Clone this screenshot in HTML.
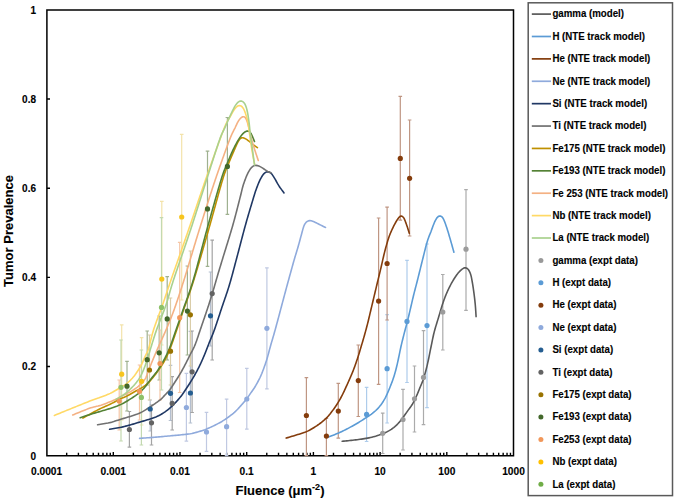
<!DOCTYPE html>
<html><head><meta charset="utf-8"><style>
html,body{margin:0;padding:0;background:#fff;}
svg{display:block;}
text{font-family:"Liberation Sans",sans-serif;font-weight:bold;fill:#000;stroke:#000;stroke-width:0.12px;}
</style></head><body>
<svg width="675" height="501" viewBox="0 0 675 501">

<path d="M66.68 455.7 V452.7 M78.42 455.7 V452.7 M86.76 455.7 V452.7 M93.22 455.7 V452.7 M98.50 455.7 V452.7 M102.97 455.7 V452.7 M106.84 455.7 V452.7 M110.25 455.7 V452.7 M113.30 455.7 V452.09999999999997 M133.38 455.7 V452.7 M145.12 455.7 V452.7 M153.46 455.7 V452.7 M159.92 455.7 V452.7 M165.20 455.7 V452.7 M169.67 455.7 V452.7 M173.54 455.7 V452.7 M176.95 455.7 V452.7 M180.00 455.7 V452.09999999999997 M200.08 455.7 V452.7 M211.82 455.7 V452.7 M220.16 455.7 V452.7 M226.62 455.7 V452.7 M231.90 455.7 V452.7 M236.37 455.7 V452.7 M240.24 455.7 V452.7 M243.65 455.7 V452.7 M246.70 455.7 V452.09999999999997 M266.78 455.7 V452.7 M278.52 455.7 V452.7 M286.86 455.7 V452.7 M293.32 455.7 V452.7 M298.60 455.7 V452.7 M303.07 455.7 V452.7 M306.94 455.7 V452.7 M310.35 455.7 V452.7 M313.40 455.7 V452.09999999999997 M333.48 455.7 V452.7 M345.22 455.7 V452.7 M353.56 455.7 V452.7 M360.02 455.7 V452.7 M365.30 455.7 V452.7 M369.77 455.7 V452.7 M373.64 455.7 V452.7 M377.05 455.7 V452.7 M380.10 455.7 V452.09999999999997 M400.18 455.7 V452.7 M411.92 455.7 V452.7 M420.26 455.7 V452.7 M426.72 455.7 V452.7 M432.00 455.7 V452.7 M436.47 455.7 V452.7 M440.34 455.7 V452.7 M443.75 455.7 V452.7 M446.80 455.7 V452.09999999999997 M466.88 455.7 V452.7 M478.62 455.7 V452.7 M486.96 455.7 V452.7 M493.42 455.7 V452.7 M498.70 455.7 V452.7 M503.17 455.7 V452.7 M507.04 455.7 V452.7 M510.45 455.7 V452.7 M46.9 366.54 H50 M46.9 277.38 H50 M46.9 188.22 H50 M46.9 99.06 H50" stroke="#000" stroke-width="1.4" fill="none"/>
<path d="M46.9 9.90 H513.50 V455.7 H46.9 Z" stroke="#000" stroke-width="1.5" fill="none"/>
<text x="36" y="459.60" font-size="10" text-anchor="end">0</text>
<text x="36" y="370.44" font-size="10" text-anchor="end">0.2</text>
<text x="36" y="281.28" font-size="10" text-anchor="end">0.4</text>
<text x="36" y="192.12" font-size="10" text-anchor="end">0.6</text>
<text x="36" y="102.96" font-size="10" text-anchor="end">0.8</text>
<text x="36" y="13.80" font-size="10" text-anchor="end">1</text>
<text x="46.60" y="475" font-size="10.2" text-anchor="middle">0.0001</text>
<text x="113.30" y="475" font-size="10.2" text-anchor="middle">0.001</text>
<text x="180.00" y="475" font-size="10.2" text-anchor="middle">0.01</text>
<text x="246.70" y="475" font-size="10.2" text-anchor="middle">0.1</text>
<text x="313.40" y="475" font-size="10.2" text-anchor="middle">1</text>
<text x="380.10" y="475" font-size="10.2" text-anchor="middle">10</text>
<text x="446.80" y="475" font-size="10.2" text-anchor="middle">100</text>
<text x="513.50" y="475" font-size="10.2" text-anchor="middle">1000</text>
<text x="0" y="0" font-size="13" text-anchor="middle" transform="translate(13.2 231) rotate(-90)">Tumor Prevalence</text>
<text x="280" y="495" font-size="13" text-anchor="middle">Fluence (μm<tspan font-size="9" dy="-5">-2</tspan><tspan dy="5">)</tspan></text>
<rect x="528.2" y="2.8" width="144.3" height="492.8" fill="none" stroke="#595959" stroke-width="1.5"/>
<path d="M531.8 14.10 H551" stroke="#595959" stroke-width="1.7"/>
<text transform="translate(552.4 17.40) scale(1 1.08)" font-size="9.7">gamma (model)</text>
<path d="M531.8 36.49 H551" stroke="#5B9BD5" stroke-width="1.7"/>
<text transform="translate(552.4 39.79) scale(1 1.08)" font-size="9.7">H (NTE track model)</text>
<path d="M531.8 58.88 H551" stroke="#843C0C" stroke-width="1.7"/>
<text transform="translate(552.4 62.18) scale(1 1.08)" font-size="9.7">He (NTE track model)</text>
<path d="M531.8 81.27 H551" stroke="#8FAADC" stroke-width="1.7"/>
<text transform="translate(552.4 84.57) scale(1 1.08)" font-size="9.7">Ne (NTE track model)</text>
<path d="M531.8 103.66 H551" stroke="#203864" stroke-width="1.7"/>
<text transform="translate(552.4 106.96) scale(1 1.08)" font-size="9.7">Si (NTE track model)</text>
<path d="M531.8 126.05 H551" stroke="#707070" stroke-width="1.7"/>
<text transform="translate(552.4 129.35) scale(1 1.08)" font-size="9.7">Ti (NTE track model)</text>
<path d="M531.8 148.44 H551" stroke="#BF9000" stroke-width="1.7"/>
<text transform="translate(552.4 151.74) scale(1 1.08)" font-size="9.7">Fe175 (NTE track model)</text>
<path d="M531.8 170.83 H551" stroke="#548235" stroke-width="1.7"/>
<text transform="translate(552.4 174.13) scale(1 1.08)" font-size="9.7">Fe193 (NTE track model)</text>
<path d="M531.8 193.22 H551" stroke="#F4B183" stroke-width="1.7"/>
<text transform="translate(552.4 196.52) scale(1 1.08)" font-size="9.7">Fe 253 (NTE track model)</text>
<path d="M531.8 215.61 H551" stroke="#FFD966" stroke-width="1.7"/>
<text transform="translate(552.4 218.91) scale(1 1.08)" font-size="9.7">Nb (NTE track model)</text>
<path d="M531.8 238.00 H551" stroke="#A9D18E" stroke-width="1.7"/>
<text transform="translate(552.4 241.30) scale(1 1.08)" font-size="9.7">La (NTE track model)</text>
<circle cx="540.9" cy="260.39" r="2.5" fill="#999999"/>
<text transform="translate(552.4 263.69) scale(1 1.08)" font-size="9.7">gamma (expt data)</text>
<circle cx="540.9" cy="282.78" r="2.5" fill="#5B9BD5"/>
<text transform="translate(552.4 286.08) scale(1 1.08)" font-size="9.7">H (expt data)</text>
<circle cx="540.9" cy="305.17" r="2.5" fill="#843C0C"/>
<text transform="translate(552.4 308.47) scale(1 1.08)" font-size="9.7">He (expt data)</text>
<circle cx="540.9" cy="327.56" r="2.5" fill="#8FAADC"/>
<text transform="translate(552.4 330.86) scale(1 1.08)" font-size="9.7">Ne (expt data)</text>
<circle cx="540.9" cy="349.95" r="2.5" fill="#255E91"/>
<text transform="translate(552.4 353.25) scale(1 1.08)" font-size="9.7">Si (expt data)</text>
<circle cx="540.9" cy="372.34" r="2.5" fill="#636363"/>
<text transform="translate(552.4 375.64) scale(1 1.08)" font-size="9.7">Ti (expt data)</text>
<circle cx="540.9" cy="394.73" r="2.5" fill="#997300"/>
<text transform="translate(552.4 398.03) scale(1 1.08)" font-size="9.7">Fe175 (expt data)</text>
<circle cx="540.9" cy="417.12" r="2.5" fill="#43682B"/>
<text transform="translate(552.4 420.42) scale(1 1.08)" font-size="9.7">Fe193 (expt data)</text>
<circle cx="540.9" cy="439.51" r="2.5" fill="#F1975A"/>
<text transform="translate(552.4 442.81) scale(1 1.08)" font-size="9.7">Fe253 (expt data)</text>
<circle cx="540.9" cy="461.90" r="2.5" fill="#FFC000"/>
<text transform="translate(552.4 465.20) scale(1 1.08)" font-size="9.7">Nb (expt data)</text>
<circle cx="540.9" cy="484.29" r="2.5" fill="#70AD47"/>
<text transform="translate(552.4 487.59) scale(1 1.08)" font-size="9.7">La (expt data)</text>
<path d="M382.7 413.1 V453.5 M380.9 413.1 h3.6 M380.9 453.5 h3.6 M403.0 389.4 V450.0 M401.2 389.4 h3.6 M401.2 450.0 h3.6 M414.5 366.0 V432.0 M412.7 366.0 h3.6 M412.7 432.0 h3.6 M423.5 330.6 V424.6 M421.7 330.6 h3.6 M421.7 424.6 h3.6 M442.8 274.5 V350.0 M441.0 274.5 h3.6 M441.0 350.0 h3.6 M466.0 189.6 V310.4 M464.2 189.6 h3.6 M464.2 310.4 h3.6" stroke="#ABABAB" stroke-width="1.2" fill="none"/>
<path d="M366.6 387.4 V441.5 M364.8 387.4 h3.6 M364.8 441.5 h3.6 M387.1 314.7 V423.0 M385.3 314.7 h3.6 M385.3 423.0 h3.6 M407.0 260.3 V382.5 M405.2 260.3 h3.6 M405.2 382.5 h3.6 M427.0 244.0 V407.6 M425.2 244.0 h3.6 M425.2 407.6 h3.6" stroke="#AECCEB" stroke-width="1.2" fill="none"/>
<path d="M306.4 377.6 V455.7 M304.6 377.6 h3.6 M304.6 455.7 h3.6 M326.4 418.5 V455.7 M324.6 418.5 h3.6 M324.6 455.7 h3.6 M338.3 383.3 V438.2 M336.5 383.3 h3.6 M336.5 438.2 h3.6 M358.3 345.0 V416.5 M356.5 345.0 h3.6 M356.5 416.5 h3.6 M378.6 218.0 V384.3 M376.8 218.0 h3.6 M376.8 384.3 h3.6 M387.1 207.2 V320.0 M385.3 207.2 h3.6 M385.3 320.0 h3.6 M400.3 96.3 V220.2 M398.5 96.3 h3.6 M398.5 220.2 h3.6 M409.6 120.0 V236.0 M407.8 120.0 h3.6 M407.8 236.0 h3.6" stroke="#BF9683" stroke-width="1.2" fill="none"/>
<path d="M186.4 373.4 V441.2 M184.6 373.4 h3.6 M184.6 441.2 h3.6 M206.5 412.4 V451.3 M204.7 412.4 h3.6 M204.7 451.3 h3.6 M226.6 399.2 V455.7 M224.8 399.2 h3.6 M224.8 455.7 h3.6 M246.8 368.3 V429.1 M245.0 368.3 h3.6 M245.0 429.1 h3.6 M266.9 267.9 V388.8 M265.1 267.9 h3.6 M265.1 388.8 h3.6" stroke="#C0C9E2" stroke-width="1.2" fill="none"/>
<path d="M150.2 400.0 V431.0 M148.4 400.0 h3.6 M148.4 431.0 h3.6 M170.5 365.4 V420.5 M168.7 365.4 h3.6 M168.7 420.5 h3.6 M190.4 331.4 V423.0 M188.6 331.4 h3.6 M188.6 423.0 h3.6 M210.5 272.0 V346.0 M208.7 272.0 h3.6 M208.7 346.0 h3.6" stroke="#B4BFCF" stroke-width="1.2" fill="none"/>
<path d="M129.4 411.5 V447.2 M127.6 411.5 h3.6 M127.6 447.2 h3.6 M151.5 405.0 V445.0 M149.7 405.0 h3.6 M149.7 445.0 h3.6 M172.2 376.6 V430.0 M170.4 376.6 h3.6 M170.4 430.0 h3.6 M192.1 331.0 V412.5 M190.3 331.0 h3.6 M190.3 412.5 h3.6 M212.2 240.2 V360.0 M210.4 240.2 h3.6 M210.4 360.0 h3.6" stroke="#A4A4A4" stroke-width="1.2" fill="none"/>
<path d="M149.5 335.0 V400.0 M147.7 335.0 h3.6 M147.7 400.0 h3.6 M170.5 298.0 V385.0 M168.7 298.0 h3.6 M168.7 385.0 h3.6 M190.4 251.0 V366.0 M188.6 251.0 h3.6 M188.6 366.0 h3.6" stroke="#DACDA8" stroke-width="1.2" fill="none"/>
<path d="M127.0 361.3 V411.0 M125.2 361.3 h3.6 M125.2 411.0 h3.6 M147.2 331.0 V385.0 M145.4 331.0 h3.6 M145.4 385.0 h3.6 M159.2 316.0 V380.0 M157.4 316.0 h3.6 M157.4 380.0 h3.6 M167.2 276.6 V360.0 M165.4 276.6 h3.6 M165.4 360.0 h3.6 M187.4 266.0 V355.0 M185.6 266.0 h3.6 M185.6 355.0 h3.6 M207.5 151.2 V266.4 M205.7 151.2 h3.6 M205.7 266.4 h3.6 M227.4 117.5 V214.4 M225.6 117.5 h3.6 M225.6 214.4 h3.6" stroke="#9FB190" stroke-width="1.2" fill="none"/>
<path d="M119.2 380.0 V430.0 M117.4 380.0 h3.6 M117.4 430.0 h3.6 M139.5 365.0 V420.0 M137.7 365.0 h3.6 M137.7 420.0 h3.6 M160.0 330.0 V400.0 M158.2 330.0 h3.6 M158.2 400.0 h3.6 M179.7 242.4 V392.5 M177.9 242.4 h3.6 M177.9 392.5 h3.6" stroke="#F6C6A6" stroke-width="1.2" fill="none"/>
<path d="M121.7 324.9 V420.0 M119.9 324.9 h3.6 M119.9 420.0 h3.6 M141.6 337.7 V425.0 M139.8 337.7 h3.6 M139.8 425.0 h3.6 M161.8 201.4 V345.0 M160.0 201.4 h3.6 M160.0 345.0 h3.6 M181.7 134.4 V300.0 M179.9 134.4 h3.6 M179.9 300.0 h3.6" stroke="#F3E3AA" stroke-width="1.2" fill="none"/>
<path d="M121.0 340.0 V441.0 M119.2 340.0 h3.6 M119.2 441.0 h3.6 M141.4 350.0 V445.0 M139.6 350.0 h3.6 M139.6 445.0 h3.6 M161.5 217.6 V390.0 M159.7 217.6 h3.6 M159.7 390.0 h3.6" stroke="#C3D9B0" stroke-width="1.2" fill="none"/>
<path d="M342.20 441.30 L343.81 441.14 L345.20 441.00 L346.68 440.85 L348.17 440.70 L349.66 440.55 L351.15 440.39 L352.65 440.23 L354.14 440.07 L355.63 439.89 L357.11 439.71 L358.60 439.51 L360.09 439.31 L361.57 439.10 L363.06 438.88 L364.54 438.65 L366.02 438.41 L367.50 438.15 L368.97 437.86 L370.44 437.55 L371.90 437.21 L373.35 436.84 L374.80 436.44 L376.23 436.02 L377.66 435.56 L379.08 435.09 L380.50 434.58 L381.90 434.06 L383.29 433.50 L384.67 432.91 L386.03 432.28 L387.37 431.61 L388.69 430.88 L389.98 430.12 L391.24 429.31 L392.48 428.47 L393.68 427.57 L394.85 426.63 L395.97 425.64 L397.05 424.60 L398.09 423.52 L399.09 422.41 L400.06 421.26 L400.99 420.09 L401.92 418.91 L402.83 417.71 L403.72 416.51 L404.60 415.29 L405.46 414.07 L406.31 412.83 L407.16 411.59 L408.02 410.37 L408.89 409.15 L409.79 407.95 L410.69 406.74 L411.55 405.52 L412.36 404.26 L413.11 402.96 L413.81 401.64 L414.49 400.30 L415.14 398.94 L415.77 397.59 L416.39 396.22 L417.00 394.85 L417.59 393.47 L418.16 392.08 L418.73 390.69 L419.29 389.30 L419.86 387.92 L420.44 386.53 L421.03 385.15 L421.61 383.77 L422.18 382.38 L422.72 380.99 L423.23 379.58 L423.71 378.15 L424.14 376.72 L424.56 375.28 L424.97 373.83 L425.37 372.39 L425.76 370.94 L426.15 369.49 L426.52 368.04 L426.88 366.58 L427.23 365.12 L427.57 363.66 L427.89 362.20 L428.21 360.73 L428.52 359.26 L428.82 357.79 L429.11 356.32 L429.41 354.85 L429.70 353.38 L430.00 351.91 L430.30 350.44 L430.59 348.97 L430.90 347.50 L431.20 346.03 L431.50 344.56 L431.80 343.09 L432.09 341.62 L432.39 340.15 L432.69 338.68 L433.00 337.22 L433.32 335.75 L433.65 334.29 L434.00 332.83 L434.37 331.38 L434.76 329.93 L435.17 328.48 L435.59 327.04 L436.02 325.61 L436.46 324.17 L436.90 322.74 L437.35 321.31 L437.79 319.88 L438.23 318.44 L438.66 317.00 L439.09 315.57 L439.51 314.13 L439.94 312.69 L440.36 311.25 L440.79 309.81 L441.22 308.38 L441.66 306.94 L442.11 305.51 L442.58 304.09 L443.06 302.66 L443.54 301.24 L444.04 299.83 L444.55 298.42 L445.08 297.02 L445.63 295.62 L446.20 294.23 L446.79 292.85 L447.40 291.48 L448.02 290.12 L448.67 288.77 L449.33 287.42 L450.00 286.08 L450.69 284.75 L451.40 283.42 L452.13 282.11 L452.88 280.81 L453.65 279.53 L454.46 278.27 L455.29 277.02 L456.14 275.78 L457.01 274.56 L457.91 273.36 L458.86 272.21 L459.88 271.11 L460.97 270.09 L462.13 269.14 L463.36 268.34 L464.69 267.87 L466.05 267.91 L467.27 268.52 L468.28 269.54 L469.10 270.77 L469.79 272.10 L470.36 273.48 L470.82 274.90 L471.20 276.35 L471.52 277.82 L471.80 279.29 L472.06 280.77 L472.31 282.25 L472.55 283.73 L472.80 285.21 L473.03 286.69 L473.26 288.17 L473.47 289.66 L473.68 291.14 L473.89 292.63 L474.08 294.11 L474.27 295.60 L474.46 297.09 L474.64 298.58 L474.81 300.07 L474.97 301.56 L475.12 303.05 L475.25 304.55 L475.38 306.04 L475.50 307.54 L475.61 309.03 L475.71 310.53 L475.81 312.03 L475.90 313.51 L475.99 314.91 L476.06 315.96 L476.10 316.60" stroke="#595959" stroke-width="1.6" fill="none" stroke-linejoin="round" stroke-linecap="round"/>
<path d="M327.50 437.20 L329.02 436.65 L330.33 436.18 L331.73 435.67 L333.14 435.16 L334.55 434.63 L335.95 434.09 L337.34 433.53 L338.72 432.95 L340.09 432.34 L341.45 431.71 L342.80 431.06 L344.15 430.40 L345.49 429.72 L346.82 429.03 L348.15 428.34 L349.47 427.64 L350.79 426.92 L352.11 426.21 L353.42 425.48 L354.73 424.74 L356.03 424.00 L357.32 423.24 L358.61 422.46 L359.88 421.67 L361.15 420.87 L362.42 420.07 L363.68 419.26 L364.94 418.44 L366.20 417.62 L367.45 416.80 L368.71 415.98 L369.95 415.14 L371.17 414.28 L372.37 413.38 L373.55 412.44 L374.70 411.48 L375.82 410.49 L376.91 409.45 L377.95 408.38 L378.95 407.26 L379.90 406.10 L380.81 404.91 L381.69 403.70 L382.54 402.46 L383.35 401.20 L384.12 399.92 L384.86 398.61 L385.56 397.28 L386.22 395.94 L386.85 394.58 L387.46 393.21 L388.06 391.83 L388.65 390.45 L389.23 389.07 L389.79 387.68 L390.35 386.29 L390.90 384.89 L391.45 383.50 L391.99 382.10 L392.51 380.69 L393.02 379.28 L393.50 377.86 L393.96 376.43 L394.40 375.00 L394.82 373.56 L395.22 372.11 L395.62 370.67 L396.00 369.22 L396.37 367.76 L396.73 366.31 L397.08 364.85 L397.42 363.39 L397.75 361.92 L398.06 360.46 L398.37 358.99 L398.68 357.52 L398.98 356.05 L399.29 354.58 L399.59 353.11 L399.89 351.64 L400.19 350.17 L400.50 348.71 L400.81 347.24 L401.14 345.78 L401.48 344.31 L401.83 342.86 L402.18 341.40 L402.54 339.94 L402.91 338.49 L403.27 337.03 L403.64 335.58 L404.01 334.12 L404.39 332.67 L404.77 331.22 L405.16 329.77 L405.55 328.32 L405.94 326.88 L406.33 325.43 L406.72 323.98 L407.10 322.53 L407.48 321.08 L407.84 319.62 L408.20 318.16 L408.55 316.71 L408.90 315.25 L409.24 313.79 L409.58 312.33 L409.93 310.87 L410.27 309.41 L410.61 307.95 L410.95 306.49 L411.30 305.02 L411.63 303.56 L411.97 302.10 L412.31 300.64 L412.65 299.18 L413.00 297.72 L413.35 296.26 L413.70 294.80 L414.06 293.35 L414.43 291.89 L414.81 290.44 L415.18 288.99 L415.56 287.54 L415.94 286.09 L416.32 284.64 L416.69 283.18 L417.07 281.73 L417.44 280.28 L417.80 278.82 L418.17 277.37 L418.53 275.91 L418.89 274.46 L419.25 273.00 L419.62 271.54 L419.98 270.09 L420.34 268.63 L420.70 267.18 L421.06 265.72 L421.42 264.27 L421.78 262.81 L422.14 261.35 L422.50 259.90 L422.86 258.44 L423.23 256.99 L423.59 255.53 L423.95 254.07 L424.32 252.62 L424.68 251.17 L425.05 249.71 L425.41 248.26 L425.79 246.80 L426.17 245.35 L426.58 243.91 L427.00 242.47 L427.44 241.04 L427.90 239.61 L428.38 238.19 L428.89 236.78 L429.43 235.38 L430.00 233.99 L430.57 232.60 L431.12 231.21 L431.64 229.80 L432.15 228.39 L432.66 226.98 L433.18 225.58 L433.73 224.18 L434.29 222.79 L434.90 221.42 L435.57 220.08 L436.32 218.79 L437.18 217.58 L438.20 216.56 L439.40 215.99 L440.68 216.08 L441.84 216.78 L442.78 217.88 L443.51 219.17 L444.13 220.53 L444.69 221.92 L445.23 223.32 L445.75 224.72 L446.24 226.14 L446.72 227.56 L447.18 228.99 L447.62 230.42 L448.07 231.86 L448.50 233.29 L448.93 234.73 L449.35 236.17 L449.78 237.61 L450.19 239.05 L450.61 240.49 L451.02 241.93 L451.43 243.37 L451.84 244.82 L452.24 246.26 L452.65 247.71 L453.05 249.14 L453.43 250.50 L453.72 251.54 L453.90 252.20" stroke="#5B9BD5" stroke-width="1.6" fill="none" stroke-linejoin="round" stroke-linecap="round"/>
<path d="M286.20 438.10 L287.75 437.63 L289.08 437.23 L290.51 436.79 L291.94 436.35 L293.37 435.91 L294.81 435.46 L296.24 435.02 L297.67 434.59 L299.11 434.16 L300.55 433.72 L301.98 433.27 L303.40 432.80 L304.81 432.30 L306.21 431.75 L307.58 431.14 L308.93 430.49 L310.25 429.79 L311.56 429.04 L312.84 428.27 L314.12 427.48 L315.38 426.68 L316.64 425.86 L317.88 425.01 L319.10 424.14 L320.30 423.24 L321.48 422.32 L322.64 421.37 L323.79 420.40 L324.91 419.41 L326.00 418.39 L327.07 417.33 L328.10 416.24 L329.08 415.11 L330.03 413.95 L330.95 412.76 L331.85 411.57 L332.75 410.36 L333.64 409.16 L334.51 407.94 L335.37 406.71 L336.21 405.47 L337.03 404.21 L337.84 402.94 L338.62 401.66 L339.38 400.37 L340.12 399.07 L340.84 397.75 L341.55 396.43 L342.24 395.10 L342.91 393.75 L343.56 392.40 L344.20 391.05 L344.83 389.68 L345.45 388.32 L346.08 386.96 L346.70 385.59 L347.32 384.23 L347.94 382.86 L348.56 381.49 L349.16 380.12 L349.76 378.75 L350.36 377.37 L350.95 375.99 L351.53 374.61 L352.11 373.23 L352.68 371.84 L353.24 370.45 L353.79 369.05 L354.32 367.65 L354.84 366.24 L355.34 364.83 L355.82 363.41 L356.30 361.99 L356.78 360.56 L357.26 359.14 L357.74 357.72 L358.21 356.30 L358.67 354.87 L359.11 353.44 L359.54 352.00 L359.96 350.56 L360.38 349.12 L360.80 347.68 L361.23 346.24 L361.66 344.81 L362.10 343.37 L362.53 341.93 L362.95 340.49 L363.37 339.05 L363.79 337.61 L364.20 336.17 L364.61 334.73 L365.01 333.28 L365.41 331.84 L365.80 330.39 L366.19 328.94 L366.58 327.49 L366.96 326.04 L367.34 324.59 L367.71 323.14 L368.08 321.68 L368.43 320.22 L368.78 318.77 L369.13 317.31 L369.48 315.85 L369.82 314.39 L370.16 312.93 L370.51 311.47 L370.86 310.01 L371.20 308.55 L371.55 307.09 L371.90 305.63 L372.25 304.17 L372.59 302.71 L372.94 301.25 L373.29 299.79 L373.63 298.33 L373.98 296.87 L374.33 295.42 L374.68 293.96 L375.02 292.50 L375.37 291.04 L375.72 289.58 L376.07 288.12 L376.41 286.66 L376.76 285.20 L377.11 283.74 L377.45 282.28 L377.80 280.82 L378.16 279.37 L378.51 277.91 L378.87 276.45 L379.23 274.99 L379.58 273.54 L379.94 272.08 L380.29 270.62 L380.64 269.16 L380.98 267.70 L381.32 266.24 L381.65 264.78 L381.98 263.32 L382.31 261.85 L382.64 260.39 L382.97 258.93 L383.31 257.46 L383.65 256.00 L383.99 254.54 L384.35 253.09 L384.71 251.63 L385.08 250.18 L385.47 248.73 L385.86 247.28 L386.26 245.84 L386.68 244.39 L387.09 242.95 L387.51 241.51 L387.95 240.08 L388.40 238.65 L388.89 237.23 L389.40 235.82 L389.94 234.42 L390.52 233.04 L391.11 231.66 L391.73 230.29 L392.35 228.93 L393.00 227.57 L393.65 226.22 L394.32 224.88 L395.02 223.56 L395.75 222.24 L396.51 220.95 L397.31 219.68 L398.15 218.44 L399.06 217.28 L400.11 216.36 L401.30 216.03 L402.47 216.45 L403.44 217.44 L404.20 218.70 L404.82 220.06 L405.37 221.45 L405.89 222.86 L406.40 224.27 L406.88 225.69 L407.35 227.11 L407.82 228.54 L408.27 229.96 L408.70 231.33 L409.05 232.42 L409.30 233.20" stroke="#843C0C" stroke-width="1.6" fill="none" stroke-linejoin="round" stroke-linecap="round"/>
<path d="M139.60 438.40 L141.22 438.27 L142.60 438.17 L144.09 438.05 L145.58 437.94 L147.08 437.82 L148.57 437.71 L150.07 437.59 L151.56 437.47 L153.06 437.35 L154.55 437.23 L156.05 437.10 L157.54 436.98 L159.04 436.85 L160.53 436.72 L162.03 436.59 L163.52 436.46 L165.02 436.32 L166.51 436.19 L168.00 436.06 L169.50 435.93 L170.99 435.79 L172.49 435.66 L173.98 435.52 L175.47 435.38 L176.97 435.24 L178.46 435.10 L179.95 434.96 L181.45 434.81 L182.94 434.66 L184.43 434.50 L185.92 434.34 L187.41 434.16 L188.90 433.97 L190.38 433.75 L191.85 433.47 L193.31 433.14 L194.77 432.76 L196.21 432.38 L197.66 431.98 L199.10 431.57 L200.54 431.14 L201.97 430.68 L203.39 430.20 L204.80 429.70 L206.20 429.16 L207.59 428.59 L208.97 428.00 L210.34 427.39 L211.70 426.76 L213.05 426.11 L214.40 425.45 L215.74 424.78 L217.08 424.10 L218.41 423.40 L219.73 422.69 L221.03 421.96 L222.32 421.19 L223.59 420.39 L224.84 419.57 L226.08 418.72 L227.31 417.86 L228.53 416.99 L229.74 416.10 L230.93 415.19 L232.11 414.27 L233.28 413.32 L234.41 412.34 L235.52 411.33 L236.59 410.29 L237.64 409.21 L238.66 408.11 L239.67 407.00 L240.67 405.89 L241.67 404.77 L242.66 403.64 L243.64 402.51 L244.61 401.36 L245.57 400.21 L246.51 399.04 L247.42 397.85 L248.30 396.63 L249.15 395.40 L249.99 394.16 L250.83 392.91 L251.68 391.68 L252.55 390.46 L253.42 389.23 L254.26 387.99 L255.06 386.72 L255.83 385.44 L256.57 384.13 L257.29 382.82 L258.00 381.50 L258.70 380.17 L259.38 378.83 L260.04 377.49 L260.67 376.13 L261.27 374.75 L261.85 373.37 L262.40 371.97 L262.94 370.57 L263.47 369.17 L263.99 367.76 L264.50 366.35 L265.00 364.94 L265.49 363.52 L265.97 362.10 L266.43 360.67 L266.88 359.24 L267.31 357.80 L267.72 356.36 L268.11 354.91 L268.50 353.47 L268.89 352.02 L269.27 350.57 L269.65 349.12 L270.04 347.67 L270.44 346.22 L270.85 344.78 L271.27 343.34 L271.69 341.90 L272.11 340.46 L272.54 339.02 L272.96 337.58 L273.38 336.14 L273.80 334.70 L274.21 333.26 L274.61 331.81 L275.02 330.37 L275.41 328.92 L275.81 327.48 L276.21 326.03 L276.60 324.58 L276.99 323.13 L277.38 321.69 L277.77 320.24 L278.16 318.79 L278.55 317.34 L278.94 315.89 L279.32 314.44 L279.71 312.99 L280.09 311.54 L280.48 310.09 L280.86 308.64 L281.25 307.19 L281.63 305.74 L282.02 304.29 L282.41 302.84 L282.79 301.39 L283.18 299.94 L283.57 298.50 L283.96 297.05 L284.34 295.60 L284.73 294.15 L285.12 292.70 L285.51 291.25 L285.90 289.80 L286.29 288.35 L286.68 286.91 L287.08 285.46 L287.47 284.01 L287.87 282.57 L288.26 281.12 L288.66 279.67 L289.06 278.23 L289.46 276.78 L289.86 275.33 L290.26 273.89 L290.66 272.44 L291.06 271.00 L291.46 269.55 L291.86 268.11 L292.26 266.66 L292.66 265.21 L293.06 263.77 L293.47 262.33 L293.88 260.88 L294.29 259.44 L294.71 258.00 L295.14 256.57 L295.58 255.13 L296.01 253.69 L296.45 252.26 L296.89 250.82 L297.32 249.39 L297.74 247.95 L298.16 246.51 L298.57 245.07 L298.98 243.62 L299.37 242.17 L299.77 240.73 L300.16 239.28 L300.55 237.83 L300.94 236.38 L301.33 234.94 L301.73 233.49 L302.11 232.04 L302.50 230.59 L302.89 229.14 L303.32 227.70 L303.80 226.29 L304.38 224.91 L305.11 223.62 L306.01 222.45 L307.11 221.49 L308.39 220.85 L309.79 220.63 L311.23 220.82 L312.64 221.27 L314.03 221.84 L315.39 222.45 L316.75 223.09 L318.09 223.77 L319.43 224.45 L320.76 225.13 L322.10 225.80 L323.41 226.45 L324.53 227.02 L325.50 227.50" stroke="#8FAADC" stroke-width="1.6" fill="none" stroke-linejoin="round" stroke-linecap="round"/>
<path d="M109.60 429.30 L111.20 429.04 L112.57 428.82 L114.04 428.57 L115.52 428.33 L117.00 428.07 L118.47 427.79 L119.94 427.50 L121.41 427.18 L122.87 426.85 L124.33 426.49 L125.78 426.12 L127.23 425.75 L128.68 425.36 L130.13 424.96 L131.57 424.55 L133.01 424.13 L134.45 423.70 L135.88 423.26 L137.32 422.82 L138.75 422.38 L140.19 421.95 L141.63 421.53 L143.07 421.11 L144.51 420.70 L145.95 420.28 L147.39 419.84 L148.81 419.39 L150.24 418.91 L151.66 418.43 L153.07 417.93 L154.48 417.42 L155.88 416.89 L157.27 416.31 L158.62 415.68 L159.96 414.99 L161.27 414.26 L162.55 413.49 L163.82 412.68 L165.06 411.84 L166.28 410.97 L167.47 410.06 L168.64 409.13 L169.79 408.16 L170.91 407.16 L172.00 406.14 L173.08 405.09 L174.13 404.02 L175.17 402.94 L176.19 401.84 L177.20 400.73 L178.19 399.61 L179.17 398.47 L180.13 397.32 L181.06 396.14 L181.97 394.95 L182.84 393.73 L183.70 392.50 L184.53 391.25 L185.36 390.00 L186.18 388.75 L187.01 387.49 L187.83 386.24 L188.66 384.99 L189.47 383.73 L190.28 382.46 L191.07 381.19 L191.85 379.91 L192.62 378.62 L193.38 377.33 L194.13 376.03 L194.88 374.73 L195.61 373.42 L196.33 372.11 L197.04 370.78 L197.74 369.46 L198.43 368.12 L199.10 366.78 L199.76 365.43 L200.40 364.08 L201.03 362.72 L201.65 361.35 L202.26 359.98 L202.86 358.61 L203.45 357.23 L204.04 355.85 L204.62 354.46 L205.18 353.08 L205.74 351.68 L206.29 350.29 L206.83 348.89 L207.37 347.49 L207.91 346.09 L208.45 344.69 L209.00 343.29 L209.55 341.90 L210.11 340.51 L210.69 339.12 L211.27 337.74 L211.85 336.36 L212.42 334.97 L212.98 333.58 L213.52 332.18 L214.04 330.77 L214.55 329.36 L215.05 327.95 L215.54 326.53 L216.03 325.11 L216.51 323.69 L216.98 322.27 L217.46 320.84 L217.93 319.42 L218.40 318.00 L218.87 316.57 L219.34 315.15 L219.81 313.72 L220.28 312.30 L220.75 310.87 L221.22 309.45 L221.69 308.03 L222.17 306.60 L222.65 305.18 L223.14 303.76 L223.62 302.34 L224.11 300.93 L224.60 299.51 L225.09 298.09 L225.58 296.67 L226.06 295.25 L226.55 293.83 L227.02 292.41 L227.49 290.98 L227.95 289.56 L228.40 288.13 L228.85 286.70 L229.29 285.26 L229.72 283.82 L230.14 282.38 L230.55 280.94 L230.96 279.50 L231.37 278.06 L231.77 276.61 L232.16 275.16 L232.55 273.71 L232.94 272.27 L233.33 270.82 L233.72 269.37 L234.10 267.92 L234.49 266.47 L234.87 265.02 L235.25 263.57 L235.64 262.12 L236.02 260.67 L236.41 259.22 L236.79 257.77 L237.18 256.32 L237.57 254.87 L237.95 253.42 L238.33 251.97 L238.72 250.52 L239.10 249.07 L239.48 247.62 L239.86 246.17 L240.23 244.71 L240.61 243.26 L240.99 241.81 L241.37 240.36 L241.75 238.91 L242.13 237.46 L242.51 236.01 L242.90 234.56 L243.28 233.11 L243.67 231.66 L244.05 230.21 L244.44 228.76 L244.84 227.31 L245.23 225.87 L245.64 224.42 L246.04 222.98 L246.45 221.53 L246.86 220.09 L247.27 218.65 L247.69 217.21 L248.11 215.77 L248.53 214.33 L248.96 212.89 L249.38 211.45 L249.81 210.01 L250.24 208.58 L250.67 207.14 L251.10 205.70 L251.53 204.27 L251.97 202.83 L252.40 201.39 L252.83 199.96 L253.26 198.52 L253.69 197.08 L254.12 195.65 L254.56 194.21 L255.02 192.78 L255.49 191.36 L255.99 189.95 L256.50 188.54 L257.02 187.13 L257.55 185.73 L258.10 184.33 L258.66 182.94 L259.26 181.56 L259.88 180.20 L260.55 178.86 L261.27 177.55 L262.04 176.26 L262.88 175.02 L263.81 173.86 L264.87 172.84 L266.10 172.09 L267.47 171.76 L268.87 171.92 L270.15 172.53 L271.27 173.48 L272.22 174.61 L273.06 175.85 L273.86 177.12 L274.63 178.40 L275.40 179.69 L276.14 181.00 L276.87 182.31 L277.60 183.62 L278.36 184.91 L279.15 186.18 L279.99 187.43 L280.85 188.65 L281.74 189.86 L282.61 191.03 L283.36 192.04 L284.00 192.90" stroke="#203864" stroke-width="1.6" fill="none" stroke-linejoin="round" stroke-linecap="round"/>
<path d="M97.60 424.80 L99.20 424.54 L100.57 424.32 L102.04 424.08 L103.52 423.83 L105.00 423.58 L106.48 423.31 L107.95 423.03 L109.41 422.71 L110.87 422.36 L112.32 421.97 L113.76 421.54 L115.18 421.08 L116.61 420.61 L118.03 420.14 L119.46 419.68 L120.89 419.24 L122.33 418.81 L123.77 418.38 L125.21 417.96 L126.65 417.53 L128.08 417.10 L129.51 416.65 L130.94 416.20 L132.38 415.76 L133.81 415.31 L135.23 414.84 L136.65 414.35 L138.05 413.82 L139.43 413.23 L140.78 412.58 L142.11 411.89 L143.42 411.15 L144.70 410.38 L145.98 409.59 L147.24 408.79 L148.50 407.97 L149.76 407.15 L151.01 406.33 L152.26 405.50 L153.51 404.67 L154.75 403.82 L155.98 402.96 L157.20 402.09 L158.41 401.20 L159.59 400.29 L160.75 399.33 L161.85 398.32 L162.91 397.26 L163.94 396.16 L164.96 395.07 L165.99 393.98 L167.02 392.89 L168.04 391.79 L169.02 390.66 L169.97 389.49 L170.86 388.29 L171.72 387.06 L172.55 385.81 L173.37 384.55 L174.18 383.29 L174.98 382.03 L175.79 380.77 L176.60 379.50 L177.41 378.23 L178.20 376.96 L178.98 375.68 L179.76 374.40 L180.52 373.10 L181.27 371.81 L182.01 370.50 L182.74 369.19 L183.46 367.87 L184.17 366.55 L184.87 365.23 L185.57 363.90 L186.25 362.56 L186.92 361.22 L187.59 359.88 L188.25 358.54 L188.92 357.19 L189.58 355.85 L190.26 354.51 L190.95 353.18 L191.66 351.85 L192.36 350.53 L193.05 349.20 L193.71 347.85 L194.34 346.49 L194.93 345.11 L195.49 343.72 L196.02 342.32 L196.53 340.91 L197.02 339.49 L197.50 338.07 L197.98 336.65 L198.45 335.22 L198.92 333.80 L199.40 332.38 L199.88 330.95 L200.36 329.54 L200.85 328.12 L201.34 326.70 L201.83 325.28 L202.32 323.86 L202.80 322.44 L203.29 321.03 L203.78 319.61 L204.27 318.19 L204.75 316.77 L205.23 315.35 L205.71 313.93 L206.19 312.51 L206.67 311.08 L207.14 309.66 L207.62 308.24 L208.09 306.81 L208.55 305.39 L209.02 303.96 L209.48 302.54 L209.94 301.11 L210.40 299.68 L210.85 298.25 L211.30 296.82 L211.74 295.38 L212.18 293.95 L212.62 292.51 L213.04 291.08 L213.47 289.64 L213.89 288.20 L214.30 286.76 L214.72 285.31 L215.13 283.87 L215.54 282.43 L215.95 280.99 L216.37 279.55 L216.79 278.10 L217.21 276.66 L217.63 275.23 L218.06 273.79 L218.49 272.35 L218.92 270.91 L219.35 269.48 L219.79 268.04 L220.22 266.61 L220.66 265.17 L221.09 263.74 L221.53 262.30 L221.96 260.87 L222.40 259.43 L222.84 258.00 L223.28 256.56 L223.72 255.13 L224.16 253.69 L224.60 252.26 L225.05 250.83 L225.49 249.40 L225.93 247.96 L226.38 246.53 L226.82 245.10 L227.26 243.66 L227.71 242.23 L228.15 240.80 L228.59 239.36 L229.03 237.93 L229.46 236.49 L229.90 235.06 L230.33 233.62 L230.76 232.19 L231.19 230.75 L231.62 229.31 L232.04 227.87 L232.46 226.43 L232.87 224.99 L233.28 223.54 L233.68 222.10 L234.08 220.65 L234.48 219.21 L234.87 217.76 L235.26 216.31 L235.64 214.86 L236.02 213.41 L236.40 211.96 L236.78 210.51 L237.15 209.05 L237.52 207.60 L237.89 206.15 L238.26 204.69 L238.63 203.24 L239.00 201.78 L239.37 200.33 L239.74 198.88 L240.11 197.42 L240.48 195.97 L240.85 194.52 L241.21 193.06 L241.55 191.60 L241.90 190.14 L242.25 188.68 L242.63 187.23 L243.05 185.79 L243.50 184.36 L243.97 182.94 L244.46 181.52 L244.97 180.11 L245.50 178.71 L246.04 177.31 L246.62 175.92 L247.22 174.55 L247.87 173.20 L248.55 171.87 L249.30 170.56 L250.11 169.30 L251.00 168.11 L252.02 167.03 L253.18 166.14 L254.50 165.56 L255.92 165.39 L257.36 165.60 L258.77 166.05 L260.14 166.64 L261.46 167.35 L262.73 168.14 L263.97 168.98 L265.22 169.82 L266.48 170.63 L267.77 171.37 L269.05 172.05 L270.14 172.58 L271.00 173.00" stroke="#707070" stroke-width="1.6" fill="none" stroke-linejoin="round" stroke-linecap="round"/>
<path d="M82.90 418.10 L84.32 417.31 L85.53 416.64 L86.84 415.92 L88.15 415.19 L89.46 414.46 L90.77 413.73 L92.08 413.01 L93.40 412.29 L94.72 411.57 L96.04 410.86 L97.36 410.16 L98.69 409.47 L100.04 408.80 L101.39 408.15 L102.75 407.52 L104.12 406.91 L105.50 406.32 L106.87 405.72 L108.24 405.11 L109.60 404.47 L110.95 403.81 L112.28 403.12 L113.60 402.42 L114.92 401.70 L116.24 400.99 L117.56 400.27 L118.89 399.58 L120.23 398.92 L121.60 398.30 L122.98 397.71 L124.37 397.14 L125.75 396.55 L127.10 395.91 L128.43 395.23 L129.75 394.51 L131.05 393.77 L132.35 393.02 L133.65 392.27 L134.96 391.54 L136.28 390.82 L137.60 390.11 L138.92 389.40 L140.23 388.67 L141.52 387.90 L142.79 387.11 L144.04 386.28 L145.25 385.40 L146.42 384.46 L147.54 383.46 L148.61 382.42 L149.65 381.34 L150.67 380.23 L151.65 379.10 L152.61 377.95 L153.56 376.79 L154.48 375.61 L155.39 374.41 L156.29 373.21 L157.17 372.00 L158.05 370.78 L158.91 369.56 L159.77 368.33 L160.62 367.09 L161.46 365.85 L162.28 364.59 L163.08 363.33 L163.85 362.04 L164.59 360.73 L165.30 359.41 L165.98 358.07 L166.64 356.73 L167.28 355.37 L167.90 354.01 L168.50 352.63 L169.08 351.25 L169.65 349.86 L170.20 348.46 L170.73 347.06 L171.25 345.66 L171.76 344.25 L172.27 342.83 L172.76 341.42 L173.25 340.00 L173.74 338.58 L174.23 337.16 L174.71 335.74 L175.20 334.32 L175.69 332.91 L176.18 331.49 L176.67 330.07 L177.15 328.65 L177.64 327.23 L178.12 325.81 L178.61 324.39 L179.09 322.97 L179.57 321.55 L180.05 320.13 L180.53 318.71 L181.02 317.29 L181.50 315.87 L181.98 314.45 L182.47 313.03 L182.95 311.61 L183.44 310.19 L183.93 308.77 L184.42 307.36 L184.92 305.94 L185.42 304.53 L185.92 303.12 L186.43 301.70 L186.94 300.29 L187.44 298.88 L187.94 297.47 L188.45 296.05 L188.94 294.64 L189.44 293.22 L189.93 291.80 L190.41 290.38 L190.89 288.96 L191.37 287.54 L191.84 286.12 L192.30 284.69 L192.76 283.26 L193.22 281.83 L193.67 280.40 L194.12 278.97 L194.56 277.54 L195.00 276.10 L195.44 274.67 L195.88 273.23 L196.31 271.80 L196.74 270.36 L197.18 268.93 L197.60 267.49 L198.03 266.05 L198.46 264.61 L198.88 263.17 L199.31 261.74 L199.73 260.30 L200.16 258.86 L200.58 257.42 L201.00 255.98 L201.42 254.54 L201.84 253.10 L202.26 251.66 L202.67 250.22 L203.09 248.78 L203.51 247.34 L203.93 245.89 L204.34 244.45 L204.76 243.01 L205.17 241.57 L205.59 240.13 L206.00 238.69 L206.42 237.25 L206.83 235.80 L207.25 234.36 L207.66 232.92 L208.08 231.48 L208.49 230.04 L208.90 228.60 L209.31 227.15 L209.72 225.71 L210.13 224.27 L210.53 222.82 L210.94 221.38 L211.34 219.93 L211.74 218.49 L212.14 217.04 L212.55 215.60 L212.94 214.15 L213.34 212.71 L213.74 211.26 L214.14 209.81 L214.54 208.37 L214.94 206.92 L215.34 205.47 L215.73 204.03 L216.13 202.58 L216.53 201.14 L216.93 199.69 L217.33 198.24 L217.73 196.80 L218.13 195.35 L218.53 193.91 L218.93 192.46 L219.33 191.02 L219.74 189.57 L220.14 188.13 L220.55 186.69 L220.97 185.24 L221.38 183.80 L221.80 182.36 L222.23 180.92 L222.66 179.49 L223.10 178.05 L223.55 176.62 L224.01 175.20 L224.49 173.77 L224.99 172.36 L225.51 170.95 L226.06 169.56 L226.64 168.17 L227.23 166.80 L227.81 165.41 L228.38 164.03 L228.94 162.64 L229.50 161.24 L230.07 159.86 L230.65 158.47 L231.24 157.09 L231.83 155.72 L232.42 154.34 L233.02 152.96 L233.61 151.58 L234.20 150.20 L234.80 148.83 L235.40 147.45 L236.01 146.08 L236.63 144.72 L237.26 143.36 L237.92 142.01 L238.65 140.70 L239.48 139.47 L240.47 138.43 L241.67 137.79 L243.01 137.74 L244.38 138.17 L245.69 138.85 L246.95 139.66 L248.15 140.55 L249.33 141.48 L250.48 142.44 L251.63 143.41 L252.79 144.36 L253.98 145.26 L255.19 146.11 L256.29 146.86 L257.40 147.60" stroke="#BF9000" stroke-width="1.6" fill="none" stroke-linejoin="round" stroke-linecap="round"/>
<path d="M80.20 417.70 L81.74 417.19 L83.06 416.76 L84.47 416.29 L85.90 415.82 L87.32 415.36 L88.75 414.90 L90.18 414.45 L91.62 414.00 L93.05 413.57 L94.49 413.14 L95.93 412.71 L97.36 412.28 L98.80 411.86 L100.24 411.43 L101.68 411.01 L103.12 410.59 L104.56 410.18 L106.00 409.76 L107.44 409.32 L108.87 408.87 L110.29 408.40 L111.71 407.91 L113.13 407.43 L114.54 406.93 L115.95 406.42 L117.36 405.89 L118.75 405.33 L120.13 404.75 L121.50 404.13 L122.84 403.46 L124.16 402.76 L125.47 402.02 L126.76 401.26 L128.04 400.47 L129.31 399.67 L130.57 398.87 L131.84 398.06 L133.10 397.24 L134.35 396.41 L135.58 395.57 L136.80 394.69 L137.99 393.78 L139.15 392.84 L140.29 391.85 L141.38 390.83 L142.45 389.78 L143.49 388.70 L144.50 387.59 L145.48 386.45 L146.41 385.28 L147.29 384.07 L148.14 382.83 L149.00 381.60 L149.88 380.39 L150.80 379.20 L151.73 378.03 L152.68 376.87 L153.63 375.71 L154.58 374.54 L155.51 373.37 L156.42 372.18 L157.30 370.97 L158.16 369.73 L158.98 368.48 L159.79 367.21 L160.57 365.93 L161.33 364.64 L162.08 363.34 L162.82 362.04 L163.54 360.72 L164.25 359.40 L164.95 358.08 L165.64 356.74 L166.31 355.40 L166.97 354.05 L167.60 352.69 L168.21 351.32 L168.80 349.94 L169.37 348.56 L169.93 347.16 L170.47 345.77 L170.99 344.36 L171.51 342.95 L172.01 341.54 L172.51 340.12 L173.00 338.71 L173.49 337.29 L173.97 335.87 L174.46 334.45 L174.95 333.03 L175.44 331.61 L175.93 330.20 L176.43 328.78 L176.93 327.37 L177.42 325.95 L177.92 324.54 L178.42 323.12 L178.92 321.71 L179.41 320.29 L179.91 318.88 L180.41 317.46 L180.90 316.04 L181.39 314.63 L181.89 313.21 L182.38 311.79 L182.87 310.38 L183.37 308.96 L183.87 307.55 L184.37 306.14 L184.88 304.73 L185.40 303.32 L185.91 301.91 L186.43 300.50 L186.94 299.09 L187.45 297.68 L187.96 296.27 L188.46 294.85 L188.96 293.44 L189.45 292.02 L189.93 290.60 L190.41 289.18 L190.88 287.75 L191.34 286.33 L191.79 284.90 L192.24 283.47 L192.68 282.03 L193.12 280.60 L193.55 279.16 L193.97 277.72 L194.38 276.28 L194.79 274.83 L195.20 273.39 L195.60 271.94 L196.00 270.50 L196.39 269.05 L196.79 267.60 L197.18 266.16 L197.56 264.71 L197.95 263.26 L198.34 261.81 L198.72 260.36 L199.11 258.91 L199.49 257.46 L199.87 256.01 L200.25 254.56 L200.63 253.11 L201.01 251.66 L201.39 250.20 L201.78 248.75 L202.16 247.30 L202.54 245.85 L202.92 244.40 L203.31 242.95 L203.69 241.50 L204.08 240.05 L204.46 238.60 L204.85 237.15 L205.24 235.71 L205.63 234.26 L206.03 232.81 L206.42 231.36 L206.82 229.92 L207.22 228.47 L207.62 227.03 L208.02 225.58 L208.43 224.14 L208.83 222.69 L209.23 221.25 L209.63 219.80 L210.03 218.36 L210.44 216.91 L210.84 215.47 L211.24 214.02 L211.65 212.58 L212.05 211.13 L212.45 209.69 L212.86 208.24 L213.26 206.80 L213.67 205.35 L214.08 203.91 L214.48 202.47 L214.89 201.02 L215.30 199.58 L215.71 198.14 L216.12 196.70 L216.53 195.25 L216.95 193.81 L217.36 192.37 L217.77 190.93 L218.19 189.49 L218.61 188.05 L219.03 186.61 L219.45 185.17 L219.88 183.73 L220.31 182.29 L220.74 180.86 L221.18 179.42 L221.63 177.99 L222.08 176.56 L222.55 175.14 L223.04 173.72 L223.54 172.30 L224.07 170.90 L224.63 169.51 L225.22 168.13 L225.82 166.76 L226.42 165.38 L226.99 164.00 L227.56 162.61 L228.13 161.22 L228.70 159.83 L229.28 158.45 L229.86 157.07 L230.46 155.69 L231.06 154.31 L231.66 152.94 L232.28 151.57 L232.91 150.21 L233.55 148.86 L234.21 147.51 L234.88 146.17 L235.58 144.84 L236.29 143.52 L237.02 142.21 L237.77 140.91 L238.54 139.62 L239.33 138.35 L240.15 137.10 L241.02 135.88 L241.95 134.70 L242.96 133.60 L244.06 132.60 L245.27 131.74 L246.58 131.17 L247.95 131.06 L249.22 131.52 L250.27 132.47 L251.10 133.68 L251.78 135.01 L252.39 136.37 L252.98 137.75 L253.53 139.12 L254.02 140.34 L254.50 141.50" stroke="#548235" stroke-width="1.6" fill="none" stroke-linejoin="round" stroke-linecap="round"/>
<path d="M72.70 415.00 L74.20 414.39 L75.49 413.86 L76.87 413.30 L78.25 412.73 L79.64 412.16 L81.03 411.59 L82.42 411.03 L83.81 410.47 L85.21 409.92 L86.60 409.37 L88.01 408.84 L89.41 408.33 L90.84 407.84 L92.27 407.41 L93.72 407.02 L95.18 406.67 L96.64 406.34 L98.10 406.00 L99.54 405.61 L100.98 405.17 L102.40 404.69 L103.81 404.18 L105.22 403.66 L106.62 403.13 L108.02 402.58 L109.41 402.03 L110.80 401.47 L112.19 400.90 L113.57 400.31 L114.94 399.71 L116.31 399.09 L117.66 398.44 L118.99 397.74 L120.29 397.00 L121.58 396.24 L122.88 395.50 L124.22 394.81 L125.56 394.16 L126.92 393.51 L128.27 392.85 L129.60 392.16 L130.90 391.43 L132.19 390.66 L133.46 389.86 L134.71 389.04 L135.95 388.18 L137.15 387.29 L138.32 386.35 L139.45 385.36 L140.54 384.34 L141.60 383.28 L142.62 382.18 L143.59 381.04 L144.50 379.85 L145.32 378.60 L146.02 377.28 L146.60 375.91 L147.09 374.49 L147.56 373.07 L148.07 371.66 L148.61 370.26 L149.16 368.87 L149.73 367.48 L150.29 366.09 L150.86 364.70 L151.43 363.31 L152.00 361.92 L152.57 360.54 L153.14 359.15 L153.72 357.76 L154.30 356.38 L154.88 355.00 L155.46 353.61 L156.04 352.23 L156.64 350.85 L157.23 349.48 L157.83 348.10 L158.44 346.73 L159.06 345.37 L159.68 344.00 L160.30 342.64 L160.93 341.27 L161.56 339.91 L162.18 338.55 L162.81 337.18 L163.43 335.82 L164.05 334.45 L164.66 333.08 L165.26 331.71 L165.86 330.33 L166.44 328.95 L167.03 327.57 L167.62 326.19 L168.20 324.81 L168.78 323.42 L169.35 322.04 L169.92 320.65 L170.48 319.26 L171.04 317.87 L171.58 316.47 L172.12 315.07 L172.65 313.67 L173.17 312.26 L173.69 310.85 L174.20 309.44 L174.70 308.03 L175.21 306.61 L175.70 305.20 L176.20 303.78 L176.69 302.36 L177.17 300.95 L177.66 299.53 L178.14 298.10 L178.61 296.68 L179.09 295.26 L179.56 293.83 L180.02 292.41 L180.49 290.98 L180.95 289.56 L181.41 288.13 L181.87 286.70 L182.33 285.27 L182.78 283.84 L183.24 282.41 L183.69 280.98 L184.14 279.55 L184.59 278.12 L185.03 276.69 L185.48 275.26 L185.92 273.82 L186.36 272.39 L186.79 270.95 L187.23 269.52 L187.66 268.08 L188.10 266.65 L188.53 265.21 L188.97 263.77 L189.40 262.34 L189.83 260.90 L190.26 259.46 L190.69 258.03 L191.12 256.59 L191.55 255.15 L191.99 253.72 L192.42 252.28 L192.85 250.84 L193.28 249.41 L193.71 247.97 L194.14 246.53 L194.58 245.10 L195.01 243.66 L195.45 242.23 L195.88 240.79 L196.32 239.36 L196.76 237.92 L197.20 236.49 L197.64 235.05 L198.08 233.62 L198.52 232.19 L198.97 230.75 L199.41 229.32 L199.86 227.89 L200.31 226.46 L200.75 225.03 L201.20 223.60 L201.65 222.16 L202.10 220.73 L202.55 219.30 L202.99 217.87 L203.44 216.44 L203.89 215.01 L204.34 213.58 L204.79 212.15 L205.25 210.72 L205.70 209.29 L206.15 207.86 L206.60 206.43 L207.06 205.00 L207.51 203.57 L207.97 202.14 L208.43 200.71 L208.88 199.28 L209.34 197.85 L209.80 196.42 L210.26 195.00 L210.73 193.57 L211.19 192.14 L211.65 190.72 L212.12 189.29 L212.59 187.87 L213.06 186.44 L213.53 185.02 L214.00 183.59 L214.47 182.17 L214.95 180.75 L215.43 179.33 L215.91 177.91 L216.39 176.49 L216.88 175.07 L217.36 173.65 L217.85 172.23 L218.35 170.81 L218.84 169.40 L219.33 167.98 L219.83 166.56 L220.33 165.15 L220.83 163.74 L221.33 162.32 L221.83 160.91 L222.34 159.50 L222.84 158.08 L223.35 156.67 L223.86 155.26 L224.37 153.85 L224.88 152.44 L225.40 151.03 L225.91 149.62 L226.43 148.22 L226.95 146.81 L227.47 145.40 L228.00 144.00 L228.52 142.59 L229.05 141.19 L229.59 139.79 L230.13 138.39 L230.68 137.00 L231.26 135.61 L231.86 134.24 L232.49 132.88 L233.16 131.53 L233.85 130.21 L234.54 128.87 L235.21 127.53 L235.84 126.17 L236.47 124.81 L237.11 123.45 L237.79 122.12 L238.54 120.82 L239.39 119.60 L240.36 118.47 L241.46 117.49 L242.68 116.80 L243.93 116.71 L245.02 117.33 L245.86 118.46 L246.49 119.80 L247.01 121.20 L247.46 122.63 L247.87 124.07 L248.26 125.52 L248.64 126.97 L249.00 128.43 L249.34 129.89 L249.67 131.35 L250.00 132.81 L250.34 134.28 L250.69 135.73 L251.06 137.19 L251.44 138.64 L251.83 140.09 L252.23 141.53 L252.64 142.98 L253.07 144.41 L253.50 145.85 L253.94 147.28 L254.39 148.72 L254.85 150.14 L255.31 151.57 L255.78 152.99 L256.26 154.42 L256.73 155.84 L257.21 157.26 L257.67 158.62 L258.04 159.71 L258.30 160.50" stroke="#F4B183" stroke-width="1.6" fill="none" stroke-linejoin="round" stroke-linecap="round"/>
<path d="M54.40 415.40 L55.90 414.79 L57.19 414.27 L58.57 413.71 L59.96 413.14 L61.35 412.58 L62.74 412.01 L64.13 411.45 L65.52 410.88 L66.91 410.32 L68.30 409.75 L69.69 409.19 L71.08 408.62 L72.46 408.06 L73.85 407.49 L75.24 406.93 L76.64 406.37 L78.03 405.80 L79.42 405.24 L80.81 404.68 L82.20 404.12 L83.59 403.56 L84.98 403.00 L86.37 402.44 L87.77 401.89 L89.16 401.33 L90.56 400.79 L91.96 400.25 L93.36 399.72 L94.78 399.22 L96.20 398.74 L97.63 398.29 L99.05 397.82 L100.46 397.31 L101.87 396.79 L103.27 396.25 L104.66 395.70 L106.06 395.15 L107.45 394.58 L108.83 394.00 L110.20 393.38 L111.55 392.73 L112.87 392.03 L114.17 391.28 L115.47 390.53 L116.76 389.77 L118.05 389.00 L119.33 388.22 L120.61 387.44 L121.90 386.68 L123.19 385.92 L124.47 385.14 L125.72 384.31 L126.92 383.41 L128.07 382.45 L129.18 381.44 L130.26 380.40 L131.30 379.32 L132.32 378.22 L133.29 377.08 L134.23 375.91 L135.13 374.71 L136.00 373.49 L136.84 372.25 L137.68 371.00 L138.51 369.75 L139.33 368.50 L140.14 367.24 L140.88 365.94 L141.55 364.60 L142.17 363.24 L142.76 361.86 L143.33 360.47 L143.91 359.09 L144.50 357.71 L145.11 356.34 L145.78 355.00 L146.48 353.68 L147.16 352.34 L147.76 350.97 L148.28 349.56 L148.74 348.13 L149.15 346.69 L149.53 345.24 L149.89 343.79 L150.24 342.33 L150.59 340.87 L150.94 339.41 L151.30 337.95 L151.67 336.50 L152.05 335.05 L152.44 333.60 L152.85 332.16 L153.28 330.72 L153.74 329.29 L154.21 327.87 L154.69 326.45 L155.18 325.03 L155.68 323.62 L156.19 322.21 L156.70 320.80 L157.22 319.39 L157.74 317.98 L158.26 316.58 L158.79 315.17 L159.31 313.76 L159.83 312.36 L160.35 310.95 L160.87 309.54 L161.38 308.13 L161.89 306.72 L162.39 305.31 L162.88 303.89 L163.38 302.47 L163.86 301.06 L164.35 299.64 L164.83 298.21 L165.30 296.79 L165.78 295.37 L166.26 293.95 L166.73 292.53 L167.21 291.10 L167.69 289.68 L168.17 288.26 L168.65 286.84 L169.14 285.42 L169.62 284.00 L170.11 282.58 L170.60 281.17 L171.09 279.75 L171.58 278.33 L172.07 276.91 L172.57 275.50 L173.06 274.08 L173.56 272.67 L174.05 271.25 L174.55 269.84 L175.05 268.42 L175.55 267.00 L176.04 265.59 L176.54 264.17 L177.04 262.76 L177.54 261.34 L178.03 259.93 L178.53 258.51 L179.03 257.10 L179.53 255.68 L180.02 254.27 L180.52 252.85 L181.02 251.44 L181.52 250.02 L182.01 248.61 L182.51 247.19 L183.01 245.78 L183.50 244.36 L184.00 242.95 L184.49 241.53 L184.99 240.11 L185.48 238.70 L185.97 237.28 L186.47 235.86 L186.96 234.45 L187.45 233.03 L187.94 231.61 L188.43 230.20 L188.92 228.78 L189.41 227.36 L189.89 225.94 L190.38 224.52 L190.86 223.10 L191.35 221.68 L191.83 220.26 L192.31 218.84 L192.79 217.42 L193.27 216.00 L193.75 214.58 L194.23 213.15 L194.71 211.73 L195.18 210.31 L195.66 208.89 L196.14 207.47 L196.62 206.05 L197.10 204.62 L197.57 203.20 L198.05 201.78 L198.53 200.36 L199.01 198.94 L199.49 197.52 L199.97 196.10 L200.45 194.67 L200.94 193.25 L201.42 191.83 L201.90 190.41 L202.39 189.00 L202.88 187.58 L203.36 186.16 L203.85 184.74 L204.34 183.32 L204.84 181.91 L205.33 180.49 L205.82 179.07 L206.32 177.66 L206.82 176.24 L207.31 174.83 L207.81 173.41 L208.31 172.00 L208.81 170.58 L209.31 169.17 L209.80 167.75 L210.30 166.34 L210.80 164.92 L211.30 163.51 L211.80 162.10 L212.31 160.68 L212.81 159.27 L213.31 157.86 L213.81 156.44 L214.32 155.03 L214.82 153.62 L215.33 152.21 L215.84 150.79 L216.34 149.38 L216.85 147.97 L217.36 146.56 L217.87 145.15 L218.38 143.74 L218.90 142.33 L219.41 140.92 L219.93 139.51 L220.45 138.11 L220.97 136.70 L221.49 135.29 L222.02 133.89 L222.55 132.49 L223.08 131.08 L223.63 129.69 L224.18 128.29 L224.75 126.90 L225.33 125.52 L225.94 124.15 L226.59 122.80 L227.29 121.47 L228.04 120.18 L228.84 118.91 L229.61 117.63 L230.35 116.32 L231.07 115.01 L231.79 113.69 L232.53 112.38 L233.29 111.09 L234.10 109.83 L234.98 108.62 L235.96 107.50 L237.05 106.51 L238.29 105.79 L239.63 105.55 L240.93 105.90 L242.06 106.75 L242.99 107.89 L243.74 109.17 L244.37 110.52 L244.94 111.91 L245.45 113.32 L245.91 114.75 L246.33 116.19 L246.74 117.63 L247.15 119.07 L247.53 120.52 L247.87 121.98 L248.17 123.45 L248.41 124.93 L248.63 126.41 L248.82 127.90 L249.01 129.39 L249.20 130.88 L249.39 132.37 L249.58 133.85 L249.78 135.34 L249.99 136.83 L250.19 138.31 L250.40 139.80 L250.61 141.28 L250.82 142.77 L251.04 144.25 L251.26 145.73 L251.49 147.22 L251.73 148.70 L251.98 150.18 L252.23 151.66 L252.49 153.13 L252.75 154.61 L253.02 156.09 L253.30 157.56 L253.59 159.03 L253.88 160.50 L254.17 161.92 L254.41 163.09 L254.60 164.00" stroke="#FFD966" stroke-width="1.6" fill="none" stroke-linejoin="round" stroke-linecap="round"/>
<path d="M116.00 399.50 L117.40 398.68 L118.60 397.98 L119.87 397.20 L121.14 396.40 L122.40 395.59 L123.64 394.75 L124.86 393.88 L126.05 392.96 L127.19 392.00 L128.31 391.00 L129.41 389.98 L130.49 388.94 L131.56 387.88 L132.60 386.81 L133.63 385.72 L134.63 384.60 L135.60 383.46 L136.55 382.29 L137.46 381.10 L138.33 379.88 L139.15 378.63 L139.93 377.35 L140.66 376.04 L141.35 374.71 L142.00 373.36 L142.62 371.99 L143.21 370.61 L143.78 369.23 L144.33 367.83 L144.86 366.43 L145.38 365.02 L145.88 363.61 L146.37 362.19 L146.83 360.76 L147.28 359.33 L147.72 357.90 L148.16 356.46 L148.60 355.03 L149.04 353.59 L149.48 352.16 L149.93 350.73 L150.38 349.30 L150.82 347.86 L151.26 346.43 L151.70 345.00 L152.13 343.56 L152.57 342.13 L153.01 340.69 L153.46 339.26 L153.91 337.83 L154.36 336.40 L154.82 334.97 L155.29 333.55 L155.77 332.13 L156.26 330.71 L156.76 329.29 L157.27 327.88 L157.79 326.48 L158.33 325.07 L158.87 323.68 L159.41 322.28 L159.96 320.88 L160.51 319.49 L161.06 318.09 L161.62 316.70 L162.16 315.30 L162.71 313.90 L163.25 312.51 L163.79 311.10 L164.31 309.70 L164.83 308.29 L165.34 306.88 L165.83 305.46 L166.31 304.04 L166.78 302.62 L167.23 301.19 L167.66 299.75 L168.09 298.31 L168.50 296.87 L168.90 295.43 L169.30 293.98 L169.71 292.54 L170.12 291.09 L170.53 289.65 L170.95 288.21 L171.38 286.77 L171.81 285.34 L172.26 283.90 L172.71 282.47 L173.16 281.04 L173.63 279.62 L174.10 278.19 L174.57 276.77 L175.04 275.35 L175.52 273.93 L176.00 272.50 L176.48 271.08 L176.97 269.66 L177.45 268.24 L177.94 266.83 L178.42 265.41 L178.91 263.99 L179.40 262.57 L179.89 261.15 L180.38 259.73 L180.86 258.31 L181.35 256.90 L181.84 255.48 L182.33 254.06 L182.82 252.64 L183.31 251.22 L183.80 249.80 L184.28 248.39 L184.77 246.97 L185.26 245.55 L185.74 244.13 L186.23 242.71 L186.71 241.29 L187.19 239.87 L187.67 238.45 L188.15 237.03 L188.63 235.61 L189.11 234.18 L189.58 232.76 L190.06 231.34 L190.53 229.91 L191.00 228.49 L191.46 227.06 L191.93 225.64 L192.40 224.21 L192.86 222.78 L193.32 221.36 L193.78 219.93 L194.24 218.50 L194.70 217.07 L195.16 215.65 L195.62 214.22 L196.07 212.79 L196.53 211.36 L196.98 209.93 L197.44 208.50 L197.89 207.07 L198.35 205.64 L198.80 204.21 L199.25 202.78 L199.71 201.35 L200.16 199.92 L200.61 198.49 L201.07 197.06 L201.52 195.63 L201.97 194.20 L202.43 192.77 L202.88 191.34 L203.33 189.91 L203.79 188.48 L204.24 187.05 L204.70 185.63 L205.15 184.20 L205.61 182.77 L206.07 181.34 L206.53 179.91 L206.99 178.48 L207.45 177.06 L207.90 175.63 L208.36 174.20 L208.82 172.77 L209.28 171.34 L209.73 169.91 L210.19 168.48 L210.65 167.06 L211.10 165.63 L211.56 164.20 L212.02 162.77 L212.47 161.34 L212.93 159.91 L213.39 158.48 L213.85 157.06 L214.31 155.63 L214.77 154.20 L215.23 152.77 L215.70 151.35 L216.16 149.92 L216.63 148.50 L217.10 147.07 L217.57 145.65 L218.05 144.23 L218.53 142.81 L219.02 141.39 L219.52 139.97 L220.02 138.56 L220.55 137.15 L221.09 135.76 L221.66 134.37 L222.28 133.00 L222.93 131.66 L223.61 130.32 L224.29 128.98 L224.93 127.62 L225.54 126.26 L226.15 124.88 L226.75 123.51 L227.35 122.13 L227.95 120.76 L228.55 119.39 L229.16 118.01 L229.78 116.65 L230.40 115.28 L231.04 113.93 L231.68 112.57 L232.34 111.22 L233.00 109.87 L233.67 108.54 L234.38 107.21 L235.13 105.92 L235.95 104.66 L236.86 103.48 L237.87 102.40 L239.03 101.53 L240.34 101.05 L241.70 101.13 L242.95 101.74 L244.01 102.73 L244.85 103.94 L245.51 105.27 L246.04 106.67 L246.48 108.10 L246.87 109.55 L247.21 111.01 L247.51 112.48 L247.79 113.95 L248.04 115.43 L248.27 116.91 L248.49 118.40 L248.70 119.88 L248.91 121.37 L249.10 122.85 L249.28 124.34 L249.44 125.84 L249.60 127.33 L249.74 128.82 L249.89 130.31 L250.04 131.81 L250.21 133.30 L250.38 134.79 L250.57 136.27 L250.77 137.76 L250.97 139.25 L251.18 140.73 L251.39 142.22 L251.60 143.70 L251.82 145.19 L252.03 146.67 L252.24 148.16 L252.45 149.64 L252.65 151.13 L252.85 152.61 L253.05 154.10 L253.25 155.59 L253.45 157.08 L253.65 158.56 L253.84 160.05 L254.04 161.53 L254.23 162.96 L254.39 164.13 L254.50 165.00" stroke="#A9D18E" stroke-width="1.6" fill="none" stroke-linejoin="round" stroke-linecap="round"/>
<circle cx="382.7" cy="433.3" r="2.6" fill="#9C9C9C"/>
<circle cx="403.0" cy="419.5" r="2.6" fill="#9C9C9C"/>
<circle cx="414.5" cy="398.8" r="2.6" fill="#9C9C9C"/>
<circle cx="423.5" cy="377.4" r="2.6" fill="#9C9C9C"/>
<circle cx="442.8" cy="312.0" r="2.6" fill="#9C9C9C"/>
<circle cx="466.0" cy="249.2" r="2.6" fill="#9C9C9C"/>
<circle cx="366.6" cy="414.4" r="2.6" fill="#5B9BD5"/>
<circle cx="387.1" cy="368.7" r="2.6" fill="#5B9BD5"/>
<circle cx="407.0" cy="321.4" r="2.6" fill="#5B9BD5"/>
<circle cx="427.0" cy="325.6" r="2.6" fill="#5B9BD5"/>
<circle cx="306.4" cy="415.5" r="2.6" fill="#843C0C"/>
<circle cx="326.4" cy="436.1" r="2.6" fill="#843C0C"/>
<circle cx="338.3" cy="411.1" r="2.6" fill="#843C0C"/>
<circle cx="358.3" cy="380.6" r="2.6" fill="#843C0C"/>
<circle cx="378.6" cy="301.1" r="2.6" fill="#843C0C"/>
<circle cx="387.1" cy="263.5" r="2.6" fill="#843C0C"/>
<circle cx="400.3" cy="158.4" r="2.6" fill="#843C0C"/>
<circle cx="409.6" cy="178.3" r="2.6" fill="#843C0C"/>
<circle cx="186.4" cy="407.5" r="2.6" fill="#8FAADC"/>
<circle cx="206.5" cy="432.0" r="2.6" fill="#8FAADC"/>
<circle cx="226.6" cy="426.7" r="2.6" fill="#8FAADC"/>
<circle cx="246.8" cy="399.0" r="2.6" fill="#8FAADC"/>
<circle cx="266.9" cy="328.3" r="2.6" fill="#8FAADC"/>
<circle cx="150.2" cy="409.0" r="2.6" fill="#255E91"/>
<circle cx="170.5" cy="393.3" r="2.6" fill="#255E91"/>
<circle cx="190.4" cy="393.0" r="2.6" fill="#255E91"/>
<circle cx="210.5" cy="315.8" r="2.6" fill="#255E91"/>
<circle cx="129.4" cy="429.5" r="2.6" fill="#636363"/>
<circle cx="151.5" cy="422.8" r="2.6" fill="#636363"/>
<circle cx="172.2" cy="403.4" r="2.6" fill="#636363"/>
<circle cx="192.1" cy="371.8" r="2.6" fill="#636363"/>
<circle cx="212.2" cy="293.6" r="2.6" fill="#636363"/>
<circle cx="149.5" cy="370.0" r="2.6" fill="#997300"/>
<circle cx="170.5" cy="351.2" r="2.6" fill="#997300"/>
<circle cx="190.4" cy="314.8" r="2.6" fill="#997300"/>
<circle cx="127.0" cy="386.2" r="2.6" fill="#43682B"/>
<circle cx="147.2" cy="359.7" r="2.6" fill="#43682B"/>
<circle cx="159.2" cy="352.8" r="2.6" fill="#43682B"/>
<circle cx="167.2" cy="318.9" r="2.6" fill="#43682B"/>
<circle cx="187.4" cy="311.1" r="2.6" fill="#43682B"/>
<circle cx="207.5" cy="208.9" r="2.6" fill="#43682B"/>
<circle cx="227.4" cy="166.4" r="2.6" fill="#43682B"/>
<circle cx="119.2" cy="401.1" r="2.6" fill="#F1975A"/>
<circle cx="139.5" cy="391.3" r="2.6" fill="#F1975A"/>
<circle cx="160.0" cy="363.5" r="2.6" fill="#F1975A"/>
<circle cx="179.7" cy="317.7" r="2.6" fill="#F1975A"/>
<circle cx="121.7" cy="374.2" r="2.6" fill="#F7C51E"/>
<circle cx="141.6" cy="381.3" r="2.6" fill="#F7C51E"/>
<circle cx="161.8" cy="279.1" r="2.6" fill="#F7C51E"/>
<circle cx="181.7" cy="217.0" r="2.6" fill="#F7C51E"/>
<circle cx="121.0" cy="387.3" r="2.6" fill="#8DC168"/>
<circle cx="141.4" cy="397.4" r="2.6" fill="#8DC168"/>
<circle cx="161.5" cy="307.4" r="2.6" fill="#8DC168"/>
</svg></body></html>
